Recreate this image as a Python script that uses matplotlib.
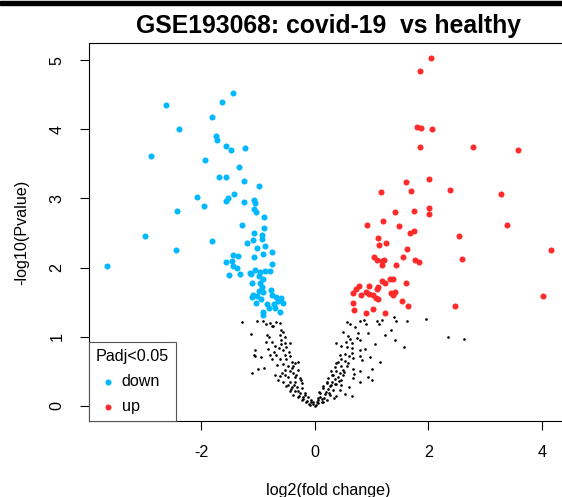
import matplotlib
matplotlib.use("Agg")
import matplotlib.pyplot as plt
from matplotlib.patches import Rectangle

plt.rcParams['font.family'] = ['Liberation Sans', 'DejaVu Sans']
plt.rcParams['axes.unicode_minus'] = False

title = "GSE193068: covid-19  vs healthy"

# significant, down-regulated (Padj < 0.05)
down_x = [-1.45, -2.62, -1.63, -1.81, -2.39, -1.74, -1.73, -1.56, -1.48, -1.23,
          -2.88, -1.94, -1.34, -1.69, -1.56, -1.25, -0.99, -2.08, -1.42, -1.53,
          -1.57, -1.25, -1.07, -1.06, -1.96, -2.43, -1.08, -1.03, -0.89, -1.29,
          -0.90, -3.00, -1.07, -0.93, -0.93, -1.81, -1.09, -1.19, -1.02, -0.87,
          -2.45, -0.91, -0.76, -1.45, -1.36, -1.08, -1.56, -1.46, -0.76, -1.45,
          -1.38, -3.67, -1.05, -0.97, -0.88, -0.79, -1.51, -1.31, -1.15, -1.12,
          -0.98, -0.91, -1.11, -0.97, -0.93, -0.78, -0.99, -0.91, -1.09, -1.02,
          -1.11, -0.76, -0.68, -0.59, -0.94, -0.85, -0.72, -1.03, -0.65, -0.56,
          -0.81, -0.71, -0.62, -0.91, -0.92]
down_y = [4.53, 4.36, 4.39, 4.18, 4.01, 3.91, 3.84, 3.76, 3.70, 3.73,
          3.61, 3.56, 3.45, 3.31, 3.31, 3.25, 3.18, 3.02, 3.06, 3.01,
          2.97, 2.95, 2.98, 2.93, 2.89, 2.82, 2.85, 2.80, 2.73, 2.61,
          2.58, 2.46, 2.50, 2.47, 2.42, 2.39, 2.40, 2.36, 2.28, 2.31,
          2.26, 2.20, 2.22, 2.18, 2.17, 2.16, 2.08, 2.09, 2.05, 2.02,
          1.99, 2.03, 1.97, 1.94, 1.95, 1.95, 1.89, 1.91, 1.92, 1.91,
          1.88, 1.83, 1.77, 1.77, 1.72, 1.68, 1.66, 1.64, 1.60, 1.59,
          1.57, 1.60, 1.58, 1.56, 1.54, 1.48, 1.47, 1.49, 1.51, 1.49,
          1.41, 1.42, 1.36, 1.36, 1.32]

# significant, up-regulated
up_x = [2.05, 1.85, 1.80, 1.87, 2.07, 1.86, 2.79, 3.58, 2.02, 1.61,
        1.16, 1.69, 2.39, 3.29, 2.01, 1.42, 1.75, 2.01, 0.92, 1.21,
        1.48, 3.38, 1.68, 1.75, 2.55, 1.12, 1.13, 1.26, 4.16, 2.59,
        1.62, 1.56, 1.04, 1.10, 1.19, 1.22, 1.18, 1.43, 1.76, 1.84,
        1.32, 1.37, 1.18, 1.23, 1.60, 1.12, 1.10, 0.95, 0.78, 0.72,
        0.68, 0.81, 0.91, 0.96, 1.03, 1.08, 1.11, 1.34, 1.38, 1.42,
        1.53, 1.64, 0.68, 0.69, 0.91, 1.02, 1.24, 2.47, 4.03]
up_y = [5.04, 4.84, 4.04, 4.02, 4.01, 3.74, 3.75, 3.70, 3.28, 3.24,
        3.09, 3.11, 3.13, 3.06, 2.86, 2.81, 2.82, 2.77, 2.61, 2.68,
        2.60, 2.61, 2.50, 2.53, 2.46, 2.43, 2.32, 2.35, 2.25, 2.12,
        2.27, 2.16, 2.16, 2.11, 2.10, 2.11, 2.04, 2.04, 2.11, 2.08,
        1.84, 1.84, 1.81, 1.78, 1.77, 1.72, 1.69, 1.73, 1.74, 1.69,
        1.63, 1.61, 1.64, 1.62, 1.60, 1.56, 1.54, 1.63, 1.60, 1.64,
        1.52, 1.45, 1.49, 1.38, 1.34, 1.40, 1.35, 1.44, 1.59]

# not significant
ns_x = [-1.28, -1.02, -0.91, -0.86, -0.79, -0.69, -0.62, -0.76, -0.74, -1.12,
        -0.59, -0.56, -0.62, -0.53, -0.85, -0.81, -0.86, -0.75, -0.59, -0.53,
        -0.44, -0.71, -0.63, -0.56, -1.06, -0.82, -0.45, -1.08, -0.94, -0.79,
        -0.68, -0.53, -0.44, -0.76, -0.62, -0.50, -0.41, -0.35, -0.29, -0.56,
        -0.47, -0.38, -1.00, -0.90, -1.10, -0.29, -0.44, -0.38, -0.71, -0.62,
        -0.53, -0.47, -0.35, -0.26, -0.65, -0.56, -0.44, -0.35, -0.23, -0.50,
        -0.41, -0.32, -0.23, -0.44, -0.35, -0.26, -0.18, -0.38, -0.29, -0.21,
        -0.12, -0.23, -0.15, -0.06, -0.09, 0.00, 0.03, 0.06, -1.06,
        0.56, 0.62, 0.79, 0.87, 0.91, 1.09, 1.13, 1.18, 1.39, 1.43, 1.62,
        0.50, 0.71, 0.76, 0.94, 0.59, 0.62, 0.74, 0.55, 0.65, 0.79,
        1.23, 1.35, 1.41, 1.06, 1.57, 0.38, 0.47, 0.56, 0.79, 0.88,
        0.44, 0.53, 0.65, 0.79, 0.97, 0.47, 0.41, 0.53, 0.68, 0.84,
        1.15, 0.35, 0.47, 0.56, 0.29, 0.38, 0.50, 0.68, 0.79, 1.00,
        0.32, 0.41, 0.50, 0.23, 0.35, 0.47, 0.68, 0.94, 1.00, 0.79,
        0.21, 0.29, 0.38, 0.47, 0.15, 0.23, 0.32, 0.44, 0.60, 0.09,
        0.18, 0.26, 0.38, 0.53, 0.65, 0.12, 0.21, 0.34, -0.03, 0.06,
        0.15, -0.06, 1.96, 2.35, 2.63, 0.69,
        -0.48, -0.42, -0.36, -0.30, -0.27, -0.20, -0.17, -0.13, -0.10, -0.04,
        0.02, 0.05, 0.09, 0.12, 0.16, 0.19, 0.25, 0.27, 0.31, 0.35,
        0.42, 0.44, 0.52, 0.58, 0.60, -0.52, -0.58, -0.66, -0.72, -0.60,
        -0.50, -0.40, -0.33, -0.24, 0.08, 0.14, 0.22, 0.30, 0.38, 0.66]
ns_y = [1.21, 1.23, 1.22, 1.19, 1.20, 1.21, 1.20, 1.16, 1.15, 1.04,
        1.10, 1.07, 1.03, 1.00, 1.03, 0.99, 0.93, 0.93, 0.95, 0.91,
        0.91, 0.86, 0.83, 0.81, 0.81, 0.82, 0.78, 0.74, 0.70, 0.74,
        0.74, 0.74, 0.72, 0.67, 0.67, 0.67, 0.64, 0.62, 0.63, 0.61,
        0.58, 0.57, 0.53, 0.54, 0.48, 0.52, 0.50, 0.47, 0.45, 0.43,
        0.45, 0.41, 0.41, 0.40, 0.38, 0.35, 0.35, 0.34, 0.33, 0.29,
        0.27, 0.27, 0.26, 0.22, 0.21, 0.19, 0.19, 0.16, 0.13, 0.13,
        0.13, 0.09, 0.06, 0.05, 0.01, 0.00, 0.06, 0.11, 0.72,
        1.21, 1.19, 1.23, 1.24, 1.19, 1.23, 1.18, 1.24, 1.28, 1.22, 1.22,
        1.07, 1.14, 1.05, 1.06, 1.01, 0.96, 0.98, 0.93, 0.91, 0.95,
        1.02, 1.10, 0.95, 0.90, 0.85, 0.91, 0.86, 0.85, 0.81, 0.82,
        0.74, 0.75, 0.76, 0.72, 0.71, 0.67, 0.64, 0.65, 0.69, 0.66,
        0.64, 0.56, 0.57, 0.58, 0.51, 0.50, 0.52, 0.53, 0.51, 0.53,
        0.45, 0.42, 0.45, 0.40, 0.39, 0.38, 0.40, 0.41, 0.37, 0.34,
        0.33, 0.30, 0.31, 0.30, 0.26, 0.24, 0.23, 0.23, 0.27, 0.18,
        0.17, 0.16, 0.14, 0.17, 0.14, 0.10, 0.09, 0.11, 0.05, 0.04,
        0.05, 0.09, 1.25, 0.99, 0.97, 0.46,
        0.30, 0.24, 0.30, 0.22, 0.14, 0.10, 0.16, 0.07, 0.03, 0.02,
        0.01, 0.08, 0.13, 0.05, 0.12, 0.20, 0.19, 0.28, 0.35, 0.32,
        0.36, 0.47, 0.49, 0.62, 0.72, 0.52, 0.48, 0.59, 0.78, 0.90,
        0.85, 0.55, 0.45, 0.38, 0.20, 0.28, 0.34, 0.44, 0.62, 0.84]

x_ticks = [-2, 0, 2, 4]
y_ticks = [0, 1, 2, 3, 4, 5]

blue = '#00B8FF'
red = '#FF2B2B'
fs = 11.6

fig = plt.figure(figsize=(5.62, 4.97), dpi=100)
ax = fig.add_axes([89 / 562, 76 / 497, 479.4 / 562, 378 / 497])

ax.scatter(ns_x, ns_y, s=3.6, c='black', linewidths=0)
ax.scatter(down_x, down_y, s=19, c=blue, linewidths=0, label='down')
ax.scatter(up_x, up_y, s=19, c=red, linewidths=0, label='up')

ax.set_xlim(-3.98, 4.47)
ax.set_ylim(-0.22, 5.25)
ax.set_xticks(x_ticks)
ax.set_yticks(y_ticks)
ax.tick_params(axis='both', direction='out', length=6.5, width=0.8,
               labelsize=fs, pad=11)
ax.tick_params(axis='y', labelrotation=90)
for lab in ax.get_yticklabels():
    lab.set_verticalalignment('center')
for sp in ax.spines.values():
    sp.set_linewidth(0.8)

ax.set_title(title, fontsize=17.8, fontweight='bold', pad=7)
ax.set_xlabel('log2(fold change)', fontsize=fs, labelpad=16)
ax.set_ylabel('-log10(Pvalue)', fontsize=fs, labelpad=15)

leg = ax.legend(title='Padj<0.05', loc='lower left', bbox_to_anchor=(0, 0),
                borderaxespad=0, fontsize=fs, title_fontsize=fs,
                fancybox=False, edgecolor='#555555', framealpha=1,
                borderpad=0.42, labelspacing=0.62, handlelength=1.5,
                handletextpad=0.11, alignment='left', markerscale=1.0)
leg.get_frame().set_linewidth(0.8)

# dark strip across the top of the screenshot
fig.patches.append(Rectangle((0, 1 - 4.5 / 497), 1, 3 / 497,
                             transform=fig.transFigure, color='black'))

fig.savefig('out.png', dpi=100)
